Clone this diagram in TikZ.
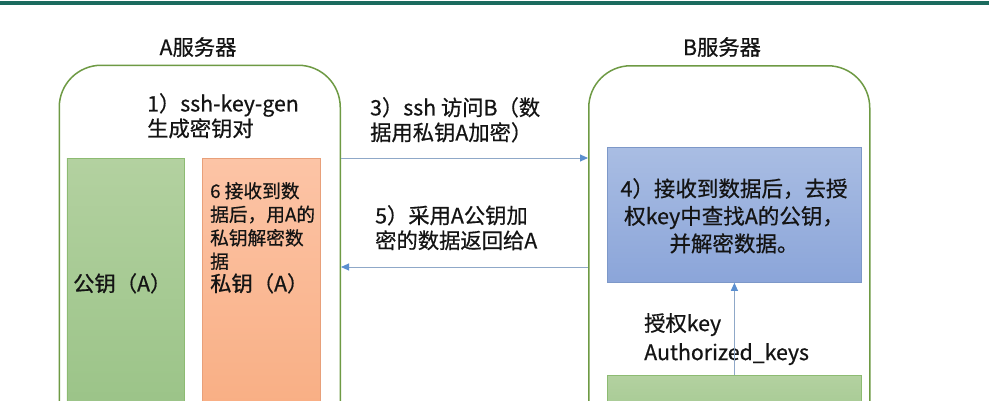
\documentclass[tikz,border=0pt]{standalone}
\usepackage{fontspec}
\setmainfont{Noto Sans CJK SC}[RawFeature={embolden=0.6}]
\usetikzlibrary{arrows.meta,shadings}
\definecolor{topline}{HTML}{1B6B5E}
\definecolor{cgreen}{HTML}{6E9A44}
\definecolor{conncol}{HTML}{8FA8C8}
\definecolor{tipcol}{HTML}{5B8FD0}
\definecolor{txt}{HTML}{141414}
\definecolor{HTMLgreenedge}{HTML}{8DBB72}
\definecolor{HTMLgreentop}{HTML}{B3D1A0}
\definecolor{HTMLgreenbot}{HTML}{98C285}
\definecolor{HTMLorangeedge}{HTML}{E8A07A}
\definecolor{HTMLorangetop}{HTML}{FCC4A6}
\definecolor{HTMLorangebot}{HTML}{F8AC80}
\definecolor{HTMLblueedge}{HTML}{7D98C8}
\definecolor{HTMLbluetop}{HTML}{A9BDE3}
\definecolor{HTMLbluebot}{HTML}{8BA5D9}
\tikzset{
  container/.style={draw=cgreen, line width=1.5pt, rounded corners=42pt, anchor=north west, inner sep=0pt},
  greenbox/.style={draw=HTMLgreenedge, top color=HTMLgreentop, bottom color=HTMLgreenbot, line width=0.8pt, anchor=north west, inner sep=0pt},
  orangebox/.style={draw=HTMLorangeedge, top color=HTMLorangetop, bottom color=HTMLorangebot, line width=0.8pt, anchor=north west, inner sep=0pt},
  bluebox/.style={draw=HTMLblueedge, top color=HTMLbluetop, bottom color=HTMLbluebot, line width=0.8pt, anchor=north west, inner sep=0pt},
  lbl/.style={inner sep=0pt, text=txt, font=\fontsize{21.3}{25}\selectfont},
  conn/.style={draw=conncol, line width=0.9pt, -{Triangle[length=8pt,width=7pt,color=tipcol]}},
}
\begin{document}
\begin{tikzpicture}[x=1pt,y=-1pt]
\useasboundingbox (0,0) rectangle (989,400);
\clip (0,0) rectangle (989,400);
\fill[white] (0,0) rectangle (989,400);
\fill[topline] (0,1) rectangle (989,4.5);

% containers
\node[container, minimum width=281pt, minimum height=420pt] (A) at (58.5,64.5) {};
\node[container, minimum width=281pt, minimum height=420pt] (B) at (588,65) {};
\node[lbl, anchor=north] (Alab) at (198,37) {A服务器};
\node[lbl, anchor=north] (Blab) at (722,37) {B服务器};

% A inner boxes
\node[greenbox, minimum width=117pt, minimum height=280pt] (pub) at (66.5,158) {};
\node[orangebox, minimum width=118pt, minimum height=280pt] (priv) at (202,158) {};
\node[lbl, anchor=north west] (pubtxt) at (73,273) {公钥（A）};
\node[lbl, anchor=north west, align=left, font=\fontsize{18.7}{23.5}\selectfont] (privtxt) at (210,182) {6 接收到数\\据后，用A的\\私钥解密数\\据};
\node[lbl, anchor=north west] (privlbl) at (210,273) {私钥（A）};
\node[lbl, anchor=north west, align=left] (gen) at (147,93) {1）ssh-key-gen\\生成密钥对};

% B inner boxes
\node[bluebox, minimum width=254pt, minimum height=135pt] (dec) at (607,147) {};
\node[lbl, anchor=north, align=center, font=\fontsize{21.5}{27.5}\selectfont] (dectxt) at (734,178) {4）接收到数据后，去授\\权key中查找A的公钥，\\并解密数据。};
\node[greenbox, minimum width=254pt, minimum height=80pt] (auth) at (607,375) {};
\node[lbl, anchor=north west, align=left, font=\fontsize{21.3}{29}\selectfont] (authtxt) at (644,313) {授权key\\Authorized\_keys};

% connectors
\coordinate (r5) at (588,267);
\draw[conn] (A.east |- pub.north) -- (B.west |- pub.north);
\draw[conn] (r5) -- (A.east |- r5);
\draw[conn] (auth.north) -- (dec.south);

% arrow labels
\node[lbl, anchor=north west, align=left] (t3) at (370,97) {3）ssh 访问B（数\\据用私钥A加密）};
\node[lbl, anchor=north west, align=left] (t5) at (375,205) {5）采用A公钥加\\密的数据返回给A};
\end{tikzpicture}
\end{document}
